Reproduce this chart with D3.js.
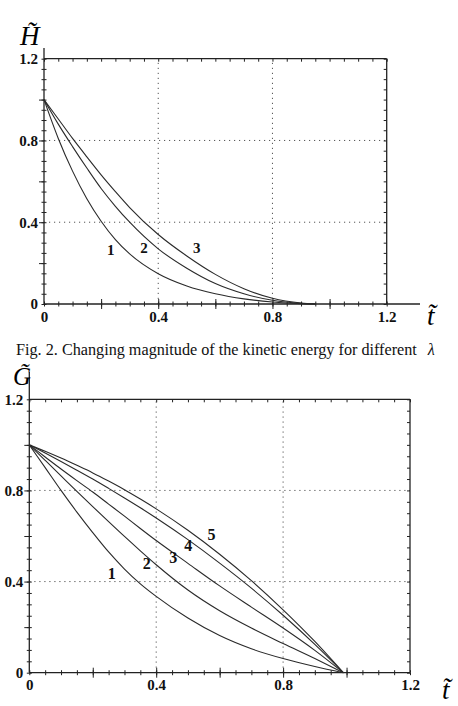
<!DOCTYPE html>
<html>
<head>
<meta charset="utf-8">
<title>kinetic energy curves</title>
<script src="https://cdn.jsdelivr.net/npm/d3@7"></script>
<style>
  body { margin: 0; background: #fff; }
  svg text { font-family: "Liberation Serif", "Times New Roman", serif; }
</style>
</head>
<body>
<script>
// values
var tH = [0, 0.05, 0.1, 0.15, 0.2, 0.25, 0.3, 0.4, 0.5, 0.6, 0.7, 0.8, 0.9, 0.95]
var h1 = [1, 0.81, 0.65, 0.515, 0.405, 0.315, 0.245, 0.148, 0.088, 0.05, 0.025, 0.01, 0.002, 0]
var h2 = [1, 0.88, 0.77, 0.665, 0.565, 0.478, 0.40, 0.27, 0.175, 0.10, 0.05, 0.018, 0.003, 0]
var h3 = [1, 0.905, 0.81, 0.72, 0.632, 0.55, 0.472, 0.34, 0.235, 0.145, 0.075, 0.028, 0.005, 0]

var tG = [0, 0.05, 0.1, 0.15, 0.2, 0.25, 0.3, 0.35, 0.4, 0.5, 0.6, 0.7, 0.8, 0.9, 0.99]
var g1 = [1, 0.90, 0.80, 0.705, 0.615, 0.53, 0.455, 0.39, 0.335, 0.24, 0.163, 0.105, 0.062, 0.027, 0]
var g2 = [1, 0.932, 0.864, 0.796, 0.729, 0.663, 0.598, 0.535, 0.474, 0.363, 0.272, 0.196, 0.128, 0.062, 0]
var g3 = [1, 0.947, 0.894, 0.843, 0.793, 0.74, 0.687, 0.633, 0.58, 0.48, 0.381, 0.288, 0.196, 0.098, 0]
var g4 = [1, 0.964, 0.927, 0.889, 0.85, 0.809, 0.767, 0.724, 0.679, 0.584, 0.481, 0.371, 0.252, 0.124, 0]
var g5 = [1, 0.972, 0.942, 0.91, 0.877, 0.841, 0.803, 0.762, 0.719, 0.625, 0.52, 0.404, 0.276, 0.137, 0]

var tickLabels = [0, 0.4, 0.8, 1.2]
var gridValues = [0.4, 0.8]

// curve numbers, placed in data units
var labelsH = [{n: "1", t: 0.234, v: 0.263}, {n: "2", t: 0.35, v: 0.273}, {n: "3", t: 0.535, v: 0.273}]
var labelsG = [{n: "1", t: 0.26, v: 0.438}, {n: "2", t: 0.37, v: 0.481}, {n: "3", t: 0.454, v: 0.507},
               {n: "4", t: 0.501, v: 0.557}, {n: "5", t: 0.574, v: 0.605}]

var svg = d3.select("body").append("svg").attr("width", 458).attr("height", 706)

function fmt(d) { return d == 0 ? "0" : d3.format(".1f")(d) }

function panel(c) {
  var x = d3.scaleLinear().domain([0, 1.2]).range([c.left, c.right])
  var y = d3.scaleLinear().domain([0, 1.2]).range([c.bottom, c.top])
  var g = svg.append("g")
  var minor = d3.range(0, 1.2001, 0.05).map(function(d) { return +d.toFixed(2) })
  var major = [0.2, 0.4, 0.6, 0.8, 1.0]

  // dotted grid
  g.selectAll(".gx").data(gridValues).enter().append("line")
    .attr("x1", x).attr("x2", x).attr("y1", y(0)).attr("y2", y(1.2))
    .attr("stroke", "#555").attr("stroke-dasharray", "1.2,3.8")
  g.selectAll(".gy").data(gridValues).enter().append("line")
    .attr("y1", y).attr("y2", y).attr("x1", x(0)).attr("x2", x(1.2))
    .attr("stroke", "#555").attr("stroke-dasharray", "1.2,3.8")

  // frame lines
  var lines = [[c.left, c.bottom, c.axisEnd, c.bottom], [c.left, c.bottom, c.left, c.yTop],
               [c.left, c.top, c.right, c.top], [c.right, c.top, c.right, c.bottom]]
  g.selectAll(".fr").data(lines).enter().append("line")
    .attr("x1", function(d) { return d[0] }).attr("y1", function(d) { return d[1] })
    .attr("x2", function(d) { return d[2] }).attr("y2", function(d) { return d[3] })
    .attr("stroke", "#222").attr("stroke-width", 1.3)

  // ticks, both sides of each frame line
  function ticks(axisFn, scale, vals, size, tx, ty) {
    var a = g.append("g").attr("transform", "translate(" + tx + "," + ty + ")")
      .call(axisFn(scale).tickValues(vals).tickSize(size).tickFormat(""))
    a.select(".domain").remove()
    a.selectAll("line").attr("stroke", "#222")
  }
  ticks(d3.axisBottom, x, minor, 2.5, 0, c.bottom)
  ticks(d3.axisTop, x, minor, 2.5, 0, c.bottom)
  ticks(d3.axisBottom, x, major, 5, 0, c.bottom)
  ticks(d3.axisTop, x, major, 5, 0, c.bottom)
  ticks(d3.axisLeft, y, minor, 2.5, c.left, 0)
  ticks(d3.axisRight, y, minor, 2.5, c.left, 0)
  ticks(d3.axisLeft, y, major, 5, c.left, 0)
  ticks(d3.axisBottom, x, minor, 3, 0, c.top)
  ticks(d3.axisLeft, y, minor, 3, c.right, 0)

  // tick labels
  var ax = g.append("g").attr("transform", "translate(0," + c.bottom + ")")
    .call(d3.axisBottom(x).tickValues(tickLabels).tickSize(0).tickPadding(7).tickFormat(fmt))
  ax.select(".domain").remove()
  var ay = g.append("g").attr("transform", "translate(" + c.left + ",0)")
    .call(d3.axisLeft(y).tickValues(tickLabels).tickSize(0).tickPadding(6).tickFormat(fmt))
  ay.select(".domain").remove()
  g.selectAll(".tick text").attr("font-family", "Liberation Serif, serif")
    .attr("font-size", 15).attr("font-weight", "bold").attr("fill", "#111")

  // curves
  var line = d3.line()
    .x(function(d) { return x(d[0]) })
    .y(function(d) { return y(d[1]) })
    .curve(d3.curveMonotoneX)
  c.series.forEach(function(s) {
    g.append("path").datum(c.t.map(function(t, i) { return [t, s[i]] }))
      .attr("d", line).attr("fill", "none").attr("stroke", "#2a2a2a").attr("stroke-width", 1.1)
  })

  g.selectAll(".lab").data(c.labels).enter().append("text")
    .attr("x", function(d) { return x(d.t) }).attr("y", function(d) { return y(d.v) })
    .attr("dy", "0.35em").attr("text-anchor", "middle")
    .attr("font-size", c.labelSize).attr("font-weight", "bold").attr("fill", "#111")
    .text(function(d) { return d.n })

  // axis titles
  g.append("text").attr("x", c.yTitle[0]).attr("y", c.yTitle[1])
    .attr("font-size", c.titleSize).attr("font-style", "italic").text(c.yName + "\u0303")
  g.append("text").attr("x", c.xTitle[0]).attr("y", c.xTitle[1])
    .attr("font-size", 27).attr("font-style", "italic").text("t\u0303")
}

panel({left: 44, right: 386.7, top: 58.7, bottom: 304, axisEnd: 420, yTop: 48,
       t: tH, series: [h1, h2, h3], labels: labelsH, labelSize: 15, titleSize: 27,
       yName: "H", yTitle: [20, 45], xTitle: [427, 325]})

panel({left: 29.3, right: 410, top: 399.3, bottom: 672.7, axisEnd: 410, yTop: 372,
       t: tG, series: [g1, g2, g3, g4, g5], labels: labelsG, labelSize: 16, titleSize: 25,
       yName: "G", yTitle: [13, 385], xTitle: [442, 699]})

svg.append("text").attr("x", 16).attr("y", 355).attr("font-size", 16.2).attr("fill", "#111")
  .text("Fig. 2. Changing magnitude of the kinetic energy for different")
  .append("tspan").attr("dx", 11).attr("font-style", "italic").text("\u03bb")
</script>
</body>
</html>
